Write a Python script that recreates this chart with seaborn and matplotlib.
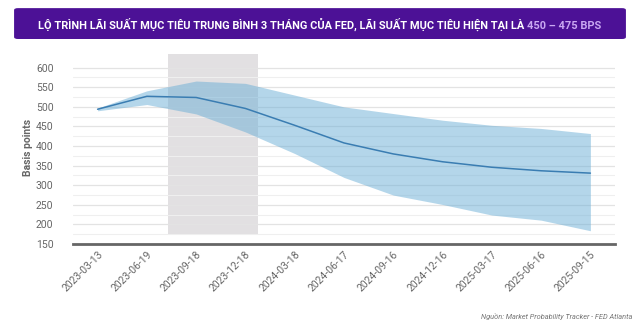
import matplotlib
matplotlib.use("Agg")
import matplotlib.pyplot as plt
from matplotlib.patches import FancyBboxPatch, Rectangle
import seaborn as sns
import pandas as pd
import numpy as np

dates = ["2023-03-13", "2023-06-19", "2023-09-18", "2023-12-18", "2024-03-18",
         "2024-06-17", "2024-09-16", "2024-12-16", "2025-03-17", "2025-06-16", "2025-09-15"]
median = [494, 527, 524, 496, 453, 408, 380, 360, 346, 337, 331]
upper = [497, 541, 566, 560, 530, 500, 483, 466, 453, 445, 432]
lower = [490, 506, 482, 436, 381, 320, 275, 251, 224, 211, 184]
yticks = [150, 200, 250, 300, 350, 400, 450, 500, 550, 600]

df = pd.DataFrame({"pos": np.arange(len(dates)), "date": dates,
                   "median": median, "upper": upper, "lower": lower})

sns.set_theme(style="white")
plt.rcParams['font.family'] = ['Roboto', 'DejaVu Sans']

fig = plt.figure(figsize=(6.4, 3.25), dpi=100)
ax = fig.add_axes([0.114, 0.249, 0.847, 0.597])

# title banner
banner = FancyBboxPatch((0.022, 0.88), 0.956, 0.095, boxstyle="round,pad=0,rounding_size=0.006",
                        transform=fig.transFigure, facecolor="#4c1196", edgecolor="none")
fig.patches.append(banner)
fs = 7.9
ty = 0.912
t1 = fig.text(0.5, ty, "LỘ TRÌNH LÃI SUẤT MỤC TIÊU TRUNG BÌNH 3 THÁNG CỦA FED, LÃI SUẤT MỤC TIÊU HIỆN TẠI LÀ ",
              color="white", fontsize=fs, fontweight="bold", ha="left", va="baseline")
fig.canvas.draw()
r = fig.canvas.get_renderer()
bb1 = t1.get_window_extent(r)
t2 = fig.text(0, ty, "450 – 475 BPS", color="#c9a8f2", fontsize=fs, fontweight="bold",
              ha="left", va="baseline")
bb2 = t2.get_window_extent(r)
total = bb1.width + bb2.width
x0 = (640 - total) / 2 / 640
t1.set_x(x0)
t2.set_x(x0 + bb1.width / 640)

# highlight rectangle
ax.add_patch(Rectangle((1.42, 173), 1.83, 462, facecolor="#e2e0e2", edgecolor="none", zorder=0))

ax.fill_between(df["pos"], df["lower"], df["upper"], color="#6aaed6", alpha=0.5, linewidth=0, zorder=2)
sns.lineplot(data=df, x="pos", y="median", ax=ax, color="#3a7db2", linewidth=1.1, zorder=3)

ax.set_xlim(-0.5, 10.5)
ax.set_ylim(150, 645)
ax.set_yticks(yticks)
ax.set_yticklabels([str(v) for v in yticks], color="#666666", fontsize=7.5)
for v in yticks[1:]:
    ax.axhline(v, color="#e3e3e3", linewidth=0.9, zorder=1)
for v in range(175, 600, 50):
    ax.axhline(v, color="#efefef", linewidth=0.8, zorder=1)
ax.set_xticks(df["pos"])
ax.set_xticklabels(dates, rotation=45, ha="right", rotation_mode="anchor", color="#666666", fontsize=7.5)
ax.tick_params(axis="y", length=0, pad=14)
ax.tick_params(axis="x", length=0, pad=4)
ax.set_xlabel("")
ax.set_ylabel("Basis points", color="#666666", fontsize=7.5, fontweight="bold", labelpad=2)
for s in ["top", "right", "left"]:
    ax.spines[s].set_visible(False)
ax.spines["bottom"].set_color("#666666")
ax.spines["bottom"].set_linewidth(2)
ax.grid(False)

fig.text(0.988, 0.025, "Nguồn: Market Probability Tracker - FED Atlanta", color="#777777",
         fontsize=5.3, style="italic", ha="right", va="center")

fig.savefig("out.png", dpi=100)
